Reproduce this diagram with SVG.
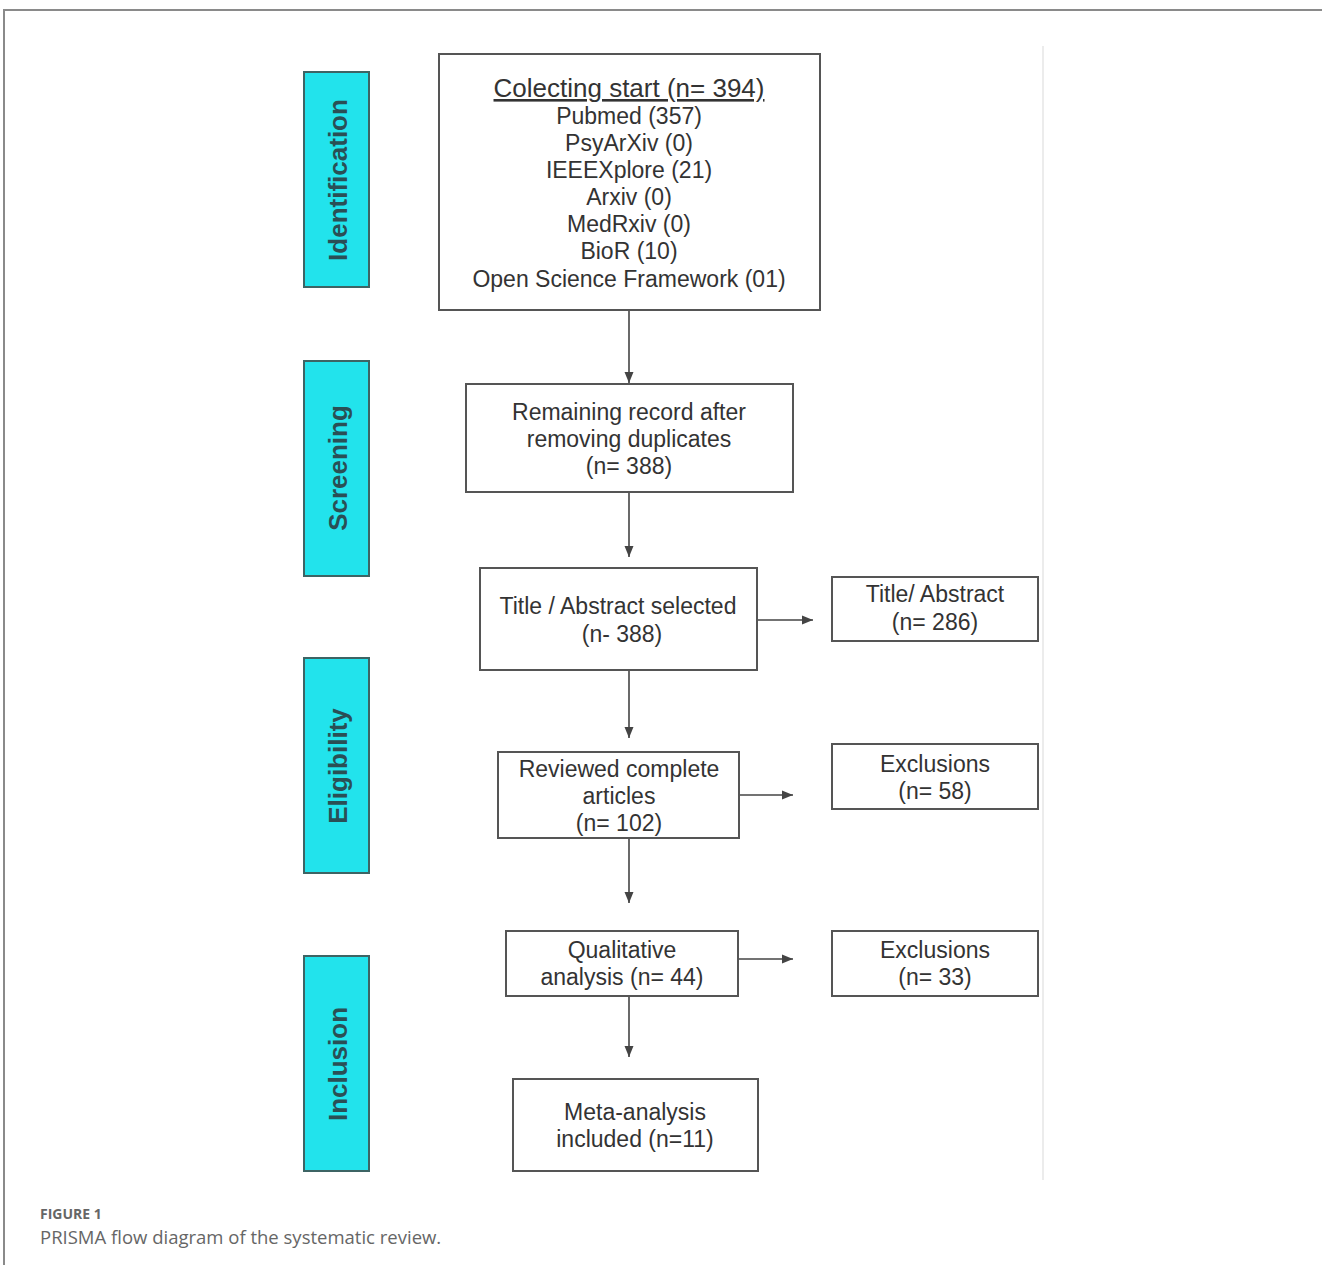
<svg xmlns="http://www.w3.org/2000/svg" width="1322" height="1265" viewBox="0 0 1322 1265">
<style>
.bx{fill:#fff;stroke:#555;stroke-width:2}
.ph{fill:#22e3ec;stroke:#3d6464;stroke-width:2}
.t{font-family:"Liberation Sans",Arial,sans-serif;font-size:23px;fill:#333;text-anchor:middle}
.pt{font-family:"Liberation Sans",Arial,sans-serif;font-size:26px;font-weight:bold;fill:#2a4f55;text-anchor:middle}
.c{stroke:#444;stroke-width:1.6;fill:none;marker-end:url(#ah)}
</style>
<defs>
<marker id="ah" markerWidth="12" markerHeight="12" refX="11" refY="6" orient="auto" markerUnits="userSpaceOnUse">
<path d="M0,1.5 L11,6 L0,10.5 Z" fill="#444"/>
</marker>
</defs>
<rect width="1322" height="1265" fill="#fff"/>
<path d="M4,1265 V10 H1322" fill="none" stroke="#8a8a8a" stroke-width="2"/>
<line x1="1043" y1="46" x2="1043" y2="1180" stroke="#ececec" stroke-width="2"/>

<g id="phase-identification"><rect class="ph" x="304" y="72" width="65" height="215"/><text class="pt" transform="translate(347,180) rotate(-90)">Identification</text></g>
<g id="phase-screening"><rect class="ph" x="304" y="361" width="65" height="215"/><text class="pt" transform="translate(347,468) rotate(-90)">Screening</text></g>
<g id="phase-eligibility"><rect class="ph" x="304" y="658" width="65" height="215"/><text class="pt" transform="translate(347,766) rotate(-90)">Eligibility</text></g>
<g id="phase-inclusion"><rect class="ph" x="304" y="956" width="65" height="215"/><text class="pt" transform="translate(347,1064) rotate(-90)">Inclusion</text></g>

<g id="connectors">
<line class="c" x1="629" y1="310" x2="629" y2="383"/>
<line class="c" x1="629" y1="492" x2="629" y2="557"/>
<line class="c" x1="757" y1="620" x2="813" y2="620"/>
<line class="c" x1="629" y1="670" x2="629" y2="738"/>
<line class="c" x1="739" y1="795" x2="793" y2="795"/>
<line class="c" x1="629" y1="838" x2="629" y2="903"/>
<line class="c" x1="738" y1="959" x2="793" y2="959"/>
<line class="c" x1="629" y1="996" x2="629" y2="1057"/>
</g>

<g id="collecting">
<rect class="bx" x="439" y="54" width="381" height="256"/>
<text class="t" x="629" y="97" style="font-size:26px;text-decoration:underline">Colecting start (n= 394)</text>
<text class="t" x="629" y="124">Pubmed (357)</text>
<text class="t" x="629" y="151">PsyArXiv (0)</text>
<text class="t" x="629" y="178">IEEEXplore (21)</text>
<text class="t" x="629" y="205">Arxiv (0)</text>
<text class="t" x="629" y="232">MedRxiv (0)</text>
<text class="t" x="629" y="259">BioR (10)</text>
<text class="t" x="629" y="287">Open Science Framework (01)</text>
</g>
<g id="remaining">
<rect class="bx" x="466" y="384" width="327" height="108"/>
<text class="t" x="629" y="420">Remaining record after</text>
<text class="t" x="629" y="447">removing duplicates</text>
<text class="t" x="629" y="474">(n= 388)</text>
</g>
<g id="title-selected">
<rect class="bx" x="480" y="568" width="277" height="102"/>
<text class="t" x="618" y="614">Title / Abstract selected</text>
<text class="t" x="622" y="642">(n- 388)</text>
</g>
<g id="title-excluded">
<rect class="bx" x="832" y="577" width="206" height="64"/>
<text class="t" x="935" y="602">Title/ Abstract</text>
<text class="t" x="935" y="630">(n= 286)</text>
</g>
<g id="reviewed">
<rect class="bx" x="498" y="752" width="241" height="86"/>
<text class="t" x="619" y="777">Reviewed complete</text>
<text class="t" x="619" y="804">articles</text>
<text class="t" x="619" y="831">(n= 102)</text>
</g>
<g id="exclusions-58">
<rect class="bx" x="832" y="744" width="206" height="65"/>
<text class="t" x="935" y="772">Exclusions</text>
<text class="t" x="935" y="799">(n= 58)</text>
</g>
<g id="qualitative">
<rect class="bx" x="506" y="931" width="232" height="65"/>
<text class="t" x="622" y="958">Qualitative</text>
<text class="t" x="622" y="985">analysis (n= 44)</text>
</g>
<g id="exclusions-33">
<rect class="bx" x="832" y="931" width="206" height="65"/>
<text class="t" x="935" y="958">Exclusions</text>
<text class="t" x="935" y="985">(n= 33)</text>
</g>
<g id="meta">
<rect class="bx" x="513" y="1079" width="245" height="92"/>
<text class="t" x="635" y="1120">Meta-analysis</text>
<text class="t" x="635" y="1147">included (n=11)</text>
</g>

<text x="40" y="1219" style="font-family:'Open Sans',sans-serif;font-size:14px;font-weight:bold;fill:#666">FIGURE 1</text>
<text x="40" y="1244" style="font-family:'Open Sans',sans-serif;font-size:18.5px;fill:#666">PRISMA flow diagram of the systematic review.</text>
</svg>
